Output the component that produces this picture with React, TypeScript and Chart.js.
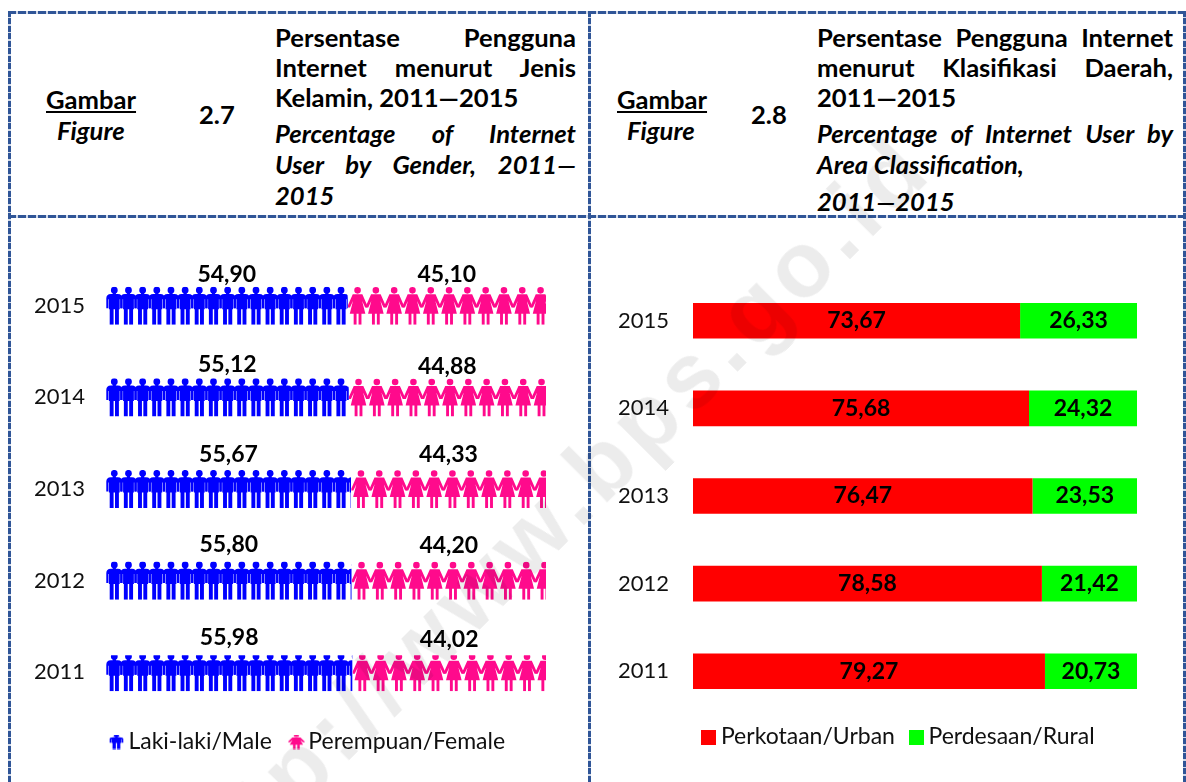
import React, { useEffect, useRef } from "react";
import { Chart, registerables } from "chart.js";

Chart.register(...registerables);

const years = ["2015", "2014", "2013", "2012", "2011"];
const maleValues = [54.9, 55.12, 55.67, 55.8, 55.98];
const femaleValues = [45.1, 44.88, 44.33, 44.2, 44.02];
const urbanValues = [73.67, 75.68, 76.47, 78.58, 79.27];
const ruralValues = [26.33, 24.32, 23.53, 21.42, 20.73];
const genderLabels = ["Laki-laki/Male", "Perempuan/Female"];
const areaLabels = ["Perkotaan/Urban", "Perdesaan/Rural"];

const maleLift = [31, 33, 34, 36, 35];
const femaleLift = [31, 31, 34, 35, 33];
const iconTopCrop = [0, 0, 0, 0, 2];

const BLUE = "#0000ff";
const PINK = "#ff0a8c";
const RED = "#ff0000";
const GREEN = "#00ff00";
const LINE = "#2f5597";
const FONT = "Lato, Carlito, 'Noto Sans', sans-serif";
const HEAD_SIZE = 25.6;

function malePath() {
  const p = new Path2D();
  p.arc(0, 3.4, 3.4, 0, Math.PI * 2);
  p.closePath();
  p.rect(-1.6, 5.5, 3.2, 3);
  // shoulders
  p.moveTo(-3.5, 7.2);
  p.lineTo(3.5, 7.2);
  p.quadraticCurveTo(8, 7.4, 8, 11.5);
  p.lineTo(8, 12.5);
  p.lineTo(-8, 12.5);
  p.lineTo(-8, 11.5);
  p.quadraticCurveTo(-8, 7.4, -3.5, 7.2);
  p.closePath();
  // torso and arms
  p.rect(-5.4, 12, 10.8, 10.5);
  p.rect(5.9, 12, 2.1, 9.5);
  p.rect(-8, 12, 2.1, 9.5);
  // legs
  p.rect(-4.6, 22, 3.9, 16);
  p.rect(0.7, 22, 3.9, 16);
  return p;
}

function femalePath() {
  const p = new Path2D();
  p.arc(0, 3.6, 3.3, 0, Math.PI * 2);
  p.closePath();
  // shoulders to dress
  p.moveTo(-4.8, 7.6);
  p.lineTo(4.8, 7.6);
  p.lineTo(9.6, 18.4);
  p.lineTo(9.6, 20.6);
  p.lineTo(7.6, 20.6);
  p.lineTo(4.6, 14.2);
  p.lineTo(7.8, 27);
  p.lineTo(-7.8, 27);
  p.lineTo(-4.6, 14.2);
  p.lineTo(-7.6, 20.6);
  p.lineTo(-9.6, 20.6);
  p.lineTo(-9.6, 18.4);
  p.closePath();
  // legs
  p.rect(-3.9, 26.5, 2.9, 11.5);
  p.rect(1, 26.5, 2.9, 11.5);
  return p;
}

function iconCanvas(path: Path2D, color: string, w: number, h: number, sx: number, sy: number) {
  const c = document.createElement("canvas");
  c.width = w;
  c.height = h;
  const g = c.getContext("2d")!;
  g.translate(w / 2, 0);
  g.scale(sx, sy);
  g.fillStyle = color;
  g.fill(path);
  return c;
}

function squareCanvas(color: string, size: number) {
  const c = document.createElement("canvas");
  c.width = size;
  c.height = size;
  const g = c.getContext("2d")!;
  g.fillStyle = color;
  g.fillRect(0, 0, size, size);
  return c;
}

const pictogramPlugin = (icons: { path: Path2D; color: string; first: number; step: number }[]) => ({
  id: "pictogram",
  afterDatasetsDraw(chart: any) {
    const ctx = chart.ctx;
    icons.forEach((ic, d) => {
      chart.getDatasetMeta(d).data.forEach((bar: any, i: number) => {
        const left = Math.min(bar.base, bar.x);
        const right = Math.max(bar.base, bar.x);
        const top = bar.y - bar.height / 2;
        ctx.save();
        ctx.beginPath();
        ctx.rect(left, top + iconTopCrop[i], right - left, bar.height - iconTopCrop[i]);
        ctx.clip();
        ctx.fillStyle = ic.color;
        for (let cx = left + ic.first; cx - 10 < right; cx += ic.step) {
          ctx.save();
          ctx.translate(cx, top);
          ctx.scale(1, bar.height / 38);
          ctx.fill(ic.path);
          ctx.restore();
        }
        ctx.restore();
      });
    });
  },
});

const valueLabelPlugin = (lifts: (number[] | null)[]) => ({
  id: "valueLabels",
  afterDatasetsDraw(chart: any) {
    const ctx = chart.ctx;
    ctx.save();
    ctx.font = `bold 23px ${FONT}`;
    ctx.fillStyle = "#000";
    ctx.textAlign = "center";
    ctx.textBaseline = "middle";
    chart.data.datasets.forEach((ds: any, d: number) => {
      chart.getDatasetMeta(d).data.forEach((bar: any, i: number) => {
        const lift = lifts[d] ? (lifts[d] as number[])[i] : 0;
        const text = ds.data[i].toFixed(2).replace(".", ",");
        ctx.fillText(text, (bar.base + bar.x) / 2, bar.y - lift);
      });
    });
    ctx.restore();
  },
});

const legendPlacePlugin = (dx: number, dy: number) => ({
  id: "legendPlace",
  afterLayout(chart: any) {
    const l = chart.legend;
    l.left += dx;
    l.right += dx;
    l.top -= dy;
    l.bottom -= dy;
  },
});

function makeOptions(gutter: number, tickPad: number, barPct: number, pad: number) {
  return {
    responsive: false,
    animation: false as const,
    indexAxis: "y" as const,
    layout: { padding: 0 },
    scales: {
      x: { stacked: true, display: false, min: 0, max: 100 },
      y: {
        stacked: true,
        afterFit: (s: any) => {
          s.width = gutter;
          s.paddingTop = 0;
          s.paddingBottom = 0;
        },
        grid: { display: false, drawTicks: false },
        border: { display: false },
        ticks: { padding: tickPad, color: "#111", font: { family: FONT, size: 22 } },
      },
    },
    datasets: { bar: { categoryPercentage: 1, barPercentage: barPct, borderWidth: 0 } },
    plugins: {
      tooltip: { enabled: false },
      legend: {
        position: "bottom" as const,
        labels: {
          usePointStyle: true,
          pointStyleWidth: 1,
          padding: pad,
          color: "#111",
          font: { family: FONT, size: 23 },
        },
      },
    },
  };
}

function legendItems(names: string[], marks: HTMLCanvasElement[]) {
  return () =>
    names.map((text, i) => ({
      text,
      pointStyle: marks[i],
      fillStyle: "transparent",
      strokeStyle: "transparent",
      lineWidth: 0,
      fontColor: "#111",
      datasetIndex: i,
    }));
}

function HeaderLine({ text, y, x, w, italic, justify }: any) {
  return (
    <div
      style={{
        position: "absolute",
        left: x,
        top: y - 17,
        width: w,
        height: 32,
        lineHeight: "32px",
        fontFamily: FONT,
        fontWeight: 700,
        fontStyle: italic ? "italic" : "normal",
        fontSize: HEAD_SIZE,
        color: "#000",
        whiteSpace: "nowrap",
        textAlign: justify ? "justify" : "left",
        textAlignLast: justify ? "justify" : "left",
      } as any}
    >
      {text}
    </div>
  );
}

function Rule({ x, y, w, h, vertical }: any) {
  const bg = vertical
    ? `repeating-linear-gradient(180deg, ${LINE} 0 6px, #cfd8e8 6px 7.5px)`
    : `repeating-linear-gradient(90deg, ${LINE} 0 8px, #cfd8e8 8px 10px)`;
  return <div style={{ position: "absolute", left: x, top: y, width: w, height: h, background: bg }} />;
}

const headStyle = (left: number, top: number, extra: any = {}) => ({
  position: "absolute" as const,
  left,
  top,
  fontFamily: FONT,
  fontWeight: 700,
  fontSize: HEAD_SIZE,
  lineHeight: "32px",
  color: "#000",
  ...extra,
});

export default function App() {
  const leftRef = useRef<HTMLCanvasElement>(null);
  const rightRef = useRef<HTMLCanvasElement>(null);

  useEffect(() => {
    const male = malePath();
    const female = femalePath();
    const left = new Chart(leftRef.current!, {
      type: "bar",
      data: {
        labels: years,
        datasets: [
          { label: genderLabels[0], data: maleValues, backgroundColor: "transparent" },
          { label: genderLabels[1], data: femaleValues, backgroundColor: "transparent" },
        ],
      },
      options: (() => {
        const o: any = makeOptions(94, 21, 38 / 91.25, 24);
        o.plugins.legend.labels.generateLabels = legendItems(genderLabels, [
          iconCanvas(male, BLUE, 15, 15, 0.85, 0.38),
          iconCanvas(female, PINK, 17, 15, 0.85, 0.38),
        ]);
        return o;
      })(),
      plugins: [
        pictogramPlugin([
          { path: male, color: BLUE, first: 8.3, step: 14.17 },
          { path: female, color: PINK, first: 10, step: 18.3 },
        ]),
        valueLabelPlugin([maleLift, femaleLift]),
        legendPlacePlugin(31.5, 11.5),
      ],
    } as any);

    const right = new Chart(rightRef.current!, {
      type: "bar",
      data: {
        labels: years,
        datasets: [
          { label: areaLabels[0], data: urbanValues, backgroundColor: RED },
          { label: areaLabels[1], data: ruralValues, backgroundColor: GREEN },
        ],
      },
      options: (() => {
        const o: any = makeOptions(81, 24, 35.5 / 87.25, 21);
        o.plugins.legend.labels.generateLabels = legendItems(areaLabels, [
          squareCanvas(RED, 15),
          squareCanvas(GREEN, 15),
        ]);
        return o;
      })(),
      plugins: [valueLabelPlugin([null, null]), legendPlacePlugin(27, 10.5)],
    } as any);

    return () => {
      left.destroy();
      right.destroy();
    };
  }, []);

  return (
    <div style={{ position: "fixed", left: 0, top: 0, width: 1186, height: 782, overflow: "hidden", background: "#fff" }}>
      <canvas ref={leftRef} width={534} height={515} style={{ position: "absolute", left: 12, top: 260, width: 534, height: 515 }} />
      <canvas ref={rightRef} width={525} height={492} style={{ position: "absolute", left: 612, top: 277, width: 525, height: 492 }} />

      <Rule x={8} y={11} w={1176} h={2.5} />
      <Rule x={8} y={215} w={1176} h={2.5} />
      <Rule x={8} y={11} w={3} h={771} vertical />
      <Rule x={587.5} y={11} w={3} h={771} vertical />
      <Rule x={1182.5} y={11} w={3} h={771} vertical />

      <div style={headStyle(46, 83, { textDecoration: "underline" })}>Gambar</div>
      <div style={headStyle(57, 114, { fontStyle: "italic" })}>Figure</div>
      <div style={headStyle(199, 98)}>2.7</div>
      <HeaderLine text="Persentase Pengguna" x={275} w={301} y={38} justify />
      <HeaderLine text="Internet menurut Jenis" x={275} w={301} y={68} justify />
      <HeaderLine text="Kelamin, 2011—2015" x={275} w={301} y={98} />
      <HeaderLine text="Percentage of Internet" x={275} w={301} y={134} italic justify />
      <HeaderLine text="User by Gender, 2011—" x={275} w={301} y={165} italic justify />
      <HeaderLine text="2015" x={275} w={301} y={196} italic />

      <div style={headStyle(617, 83, { textDecoration: "underline" })}>Gambar</div>
      <div style={headStyle(627, 114, { fontStyle: "italic" })}>Figure</div>
      <div style={headStyle(751, 98)}>2.8</div>
      <HeaderLine text="Persentase Pengguna Internet" x={817} w={356} y={38} justify />
      <HeaderLine text="menurut Klasifikasi Daerah," x={817} w={356} y={68} justify />
      <HeaderLine text="2011—2015" x={817} w={356} y={98} />
      <HeaderLine text="Percentage of Internet User by" x={817} w={356} y={134} italic justify />
      <HeaderLine text="Area Classification," x={817} w={356} y={165} italic />
      <HeaderLine text="2011—2015" x={817} w={356} y={202} italic />

      <div
        style={{
          position: "absolute",
          left: 145,
          top: 854,
          transform: "rotate(-45deg)",
          transformOrigin: "0 0",
          whiteSpace: "nowrap",
          fontFamily: "'Liberation Sans', sans-serif",
          fontWeight: 700,
          fontSize: 92,
          letterSpacing: 7,
          lineHeight: 1,
          color: "rgba(0,0,0,0.075)",
          pointerEvents: "none",
        }}
      >
        http://www.bps.go.id
      </div>
    </div>
  );
}
